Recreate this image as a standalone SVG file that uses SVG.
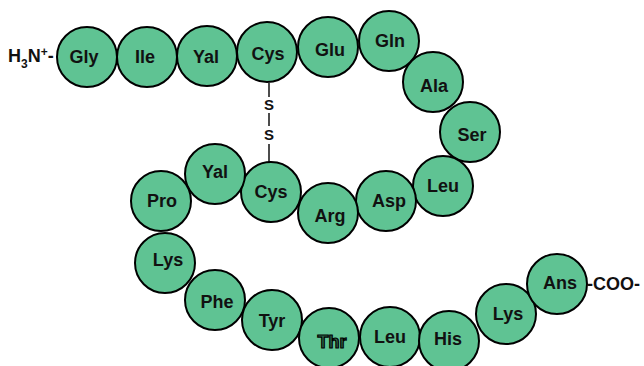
<svg xmlns="http://www.w3.org/2000/svg" width="644" height="366" viewBox="0 0 644 366">
<style>
.r circle{fill:#5fc393;stroke:#000;stroke-width:2}
.r text{font-family:"Liberation Sans",Arial,sans-serif;font-weight:bold;font-size:18px;fill:#111;text-anchor:middle}
.t{font-family:"Liberation Sans",Arial,sans-serif;font-weight:bold;font-size:18px;fill:#111}
.s{font-family:"Liberation Sans",Arial,sans-serif;font-weight:bold;font-size:15px;fill:#111;text-anchor:middle}
</style>
<rect width="644" height="366" fill="#fff"/>
<g id="connectors" stroke="#111" stroke-width="1.5">
<line x1="269" y1="83" x2="269" y2="97"/>
<line x1="269" y1="113" x2="269" y2="126"/>
<line x1="269" y1="144" x2="269" y2="162"/>
</g>
<g id="ssbond">
<text class="s" x="269" y="110">S</text>
<text class="s" x="269" y="140">S</text>
</g>
<g id="nterm"><text class="t" x="8" y="62">H<tspan font-size="12" dy="6">3</tspan><tspan dy="-6">N</tspan><tspan font-size="12" dy="-6">+</tspan><tspan dy="6">-</tspan></text></g>
<g id="cterm"><text class="t" x="587" y="290">-COO-</text></g>
<g class="r">
<g id="gly"><circle cx="87" cy="57" r="30"/><text x="84" y="63">Gly</text></g>
<g id="ile"><circle cx="147" cy="57" r="30"/><text x="145" y="63">Ile</text></g>
<g id="yal1"><circle cx="207" cy="56" r="30"/><text x="206" y="63">Yal</text></g>
<g id="cys1"><circle cx="267" cy="52" r="30"/><text x="268" y="60">Cys</text></g>
<g id="glu"><circle cx="328" cy="47" r="30"/><text x="330" y="56">Glu</text></g>
<g id="gln"><circle cx="389" cy="41" r="30"/><text x="390" y="47">Gln</text></g>
<g id="ala"><circle cx="433" cy="82" r="30"/><text x="434" y="92">Ala</text></g>
<g id="ser"><circle cx="470" cy="132" r="30"/><text x="472" y="141">Ser</text></g>
<g id="leu1"><circle cx="443" cy="186" r="30"/><text x="443" y="192">Leu</text></g>
<g id="asp"><circle cx="386" cy="201" r="30"/><text x="389" y="207">Asp</text></g>
<g id="arg"><circle cx="328" cy="213" r="30"/><text x="330" y="222">Arg</text></g>
<g id="cys2"><circle cx="271" cy="192" r="30"/><text x="271" y="198">Cys</text></g>
<g id="yal2"><circle cx="215" cy="174" r="30"/><text x="215" y="178">Yal</text></g>
<g id="pro"><circle cx="161" cy="201" r="30"/><text x="162" y="207">Pro</text></g>
<g id="lys1"><circle cx="165" cy="263" r="30"/><text x="168" y="266">Lys</text></g>
<g id="phe"><circle cx="215" cy="300" r="30"/><text x="217" y="308">Phe</text></g>
<g id="tyr"><circle cx="272" cy="320" r="30"/><text x="272" y="327">Tyr</text></g>
<g id="thr"><circle cx="329" cy="338" r="30"/><text x="332" y="348" style="fill:#2f6b4c;stroke:#000;stroke-width:1.2">Thr</text></g>
<g id="leu2"><circle cx="390" cy="337" r="30"/><text x="390" y="343">Leu</text></g>
<g id="his"><circle cx="449" cy="341" r="30"/><text x="448" y="345">His</text></g>
<g id="lys2"><circle cx="506" cy="314" r="30"/><text x="508" y="320">Lys</text></g>
<g id="ans"><circle cx="557" cy="284" r="30"/><text x="560" y="289">Ans</text></g>
</g>
</svg>
